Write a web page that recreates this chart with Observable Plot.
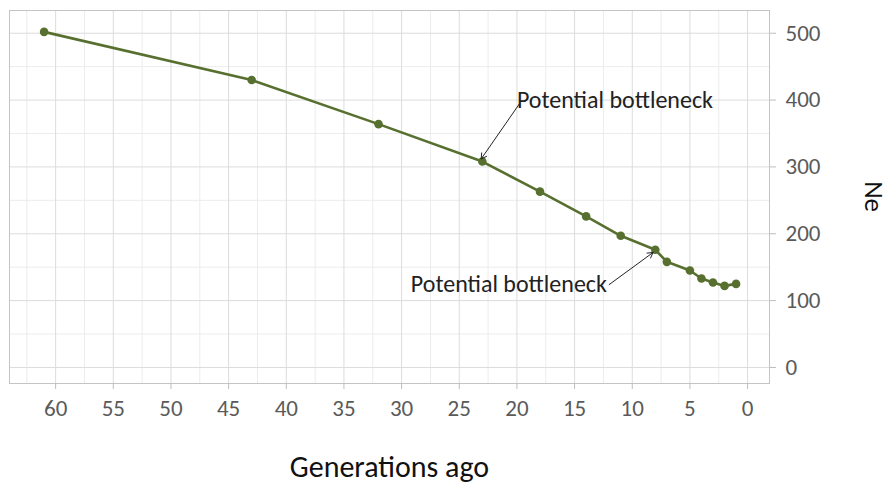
<!DOCTYPE html>
<html>
<head>
<meta charset="utf-8">
<script src="https://cdn.jsdelivr.net/npm/d3@7"></script>
<script src="https://cdn.jsdelivr.net/npm/@observablehq/plot@0.6"></script>
<style>
  html, body { margin: 0; padding: 0; background: #fff; }
</style>
</head>
<body>
<div id="chart"></div>
<script>
const generations = [61, 43, 32, 23, 18, 14, 11, 8, 7, 5, 4, 3, 2, 1];
const ne = [502, 430, 364, 308, 263, 226, 197, 176, 158, 145, 133, 127, 122, 125];
const xTicks = [60, 55, 50, 45, 40, 35, 30, 25, 20, 15, 10, 5, 0];
const xMinor = [62.5, 57.5, 52.5, 47.5, 42.5, 37.5, 32.5, 27.5, 22.5, 17.5, 12.5, 7.5, 2.5];
const yTicks = [0, 100, 200, 300, 400, 500];
const yMinor = [50, 150, 250, 350, 450];
const annotLabels = ["Potential bottleneck", "Potential bottleneck"];
const annotTextX = [20, 12.2];
const annotTextY = [400, 124];
const annotArrowX1 = [19.8, 12.0];
const annotArrowY1 = [394, 124];
const annotArrowX2 = [23.1, 8.2];
const annotArrowY2 = [312, 172];

const data = generations.map((g, i) => ({g, ne: ne[i]}));
const annots = annotLabels.map((t, i) => ({
  t, tx: annotTextX[i], ty: annotTextY[i],
  x1: annotArrowX1[i], y1: annotArrowY1[i], x2: annotArrowX2[i], y2: annotArrowY2[i]
}));

const font = "Carlito, Calibri, Lato, sans-serif";
const green = "#58702f";

const chart = Plot.plot({
  width: 893,
  height: 486,
  marginLeft: 9,
  marginRight: 124,
  marginTop: 10,
  marginBottom: 103,
  style: {fontFamily: font, background: "#fff"},
  x: {domain: [64, -1.9]},
  y: {domain: [-24, 534]},
  marks: [
    Plot.ruleX(xMinor, {stroke: "#ececec"}),
    Plot.ruleY(yMinor, {stroke: "#ececec"}),
    Plot.ruleX(xTicks, {stroke: "#dcdcdc"}),
    Plot.ruleY(yTicks, {stroke: "#dcdcdc"}),
    Plot.frame({stroke: "#c4c4c4"}),
    Plot.axisX(xTicks, {label: null, tickSize: 6, tickPadding: 10, fontSize: 23, stroke: "#bdbdbd", color: "#5a5a5a"}),
    Plot.axisY(yTicks, {anchor: "right", label: null, tickSize: 6, tickPadding: 10, fontSize: 23, stroke: "#bdbdbd", color: "#5a5a5a"}),
    Plot.line(data, {x: "g", y: "ne", stroke: green, strokeWidth: 2.6}),
    Plot.dot(data, {x: "g", y: "ne", r: 4.3, fill: green}),
    Plot.arrow(annots, {x1: "x1", y1: "y1", x2: "x2", y2: "y2", stroke: "#222", strokeWidth: 1, headLength: 9}),
    Plot.text(annots.slice(0, 1), {x: "tx", y: "ty", text: "t", textAnchor: "start", fontSize: 24, fill: "#222"}),
    Plot.text(annots.slice(1), {x: "tx", y: "ty", text: "t", textAnchor: "end", fontSize: 24, fill: "#222"}),
    Plot.text(["Generations ago"], {frameAnchor: "bottom", dy: 93, dx: 0, fontSize: 30, fill: "#111"}),
    Plot.text(["Ne"], {frameAnchor: "right", dx: 104, dy: 15, rotate: 90, fontSize: 27, fill: "#111"})
  ]
});
document.getElementById("chart").appendChild(chart);
</script>
</body>
</html>
